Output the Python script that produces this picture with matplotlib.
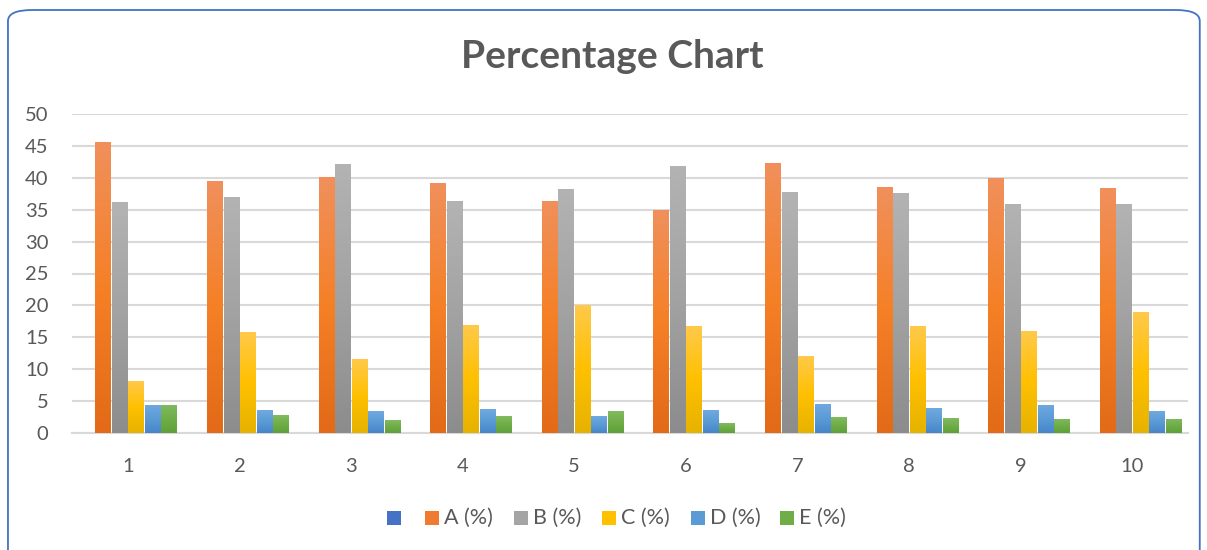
import numpy as np
import matplotlib
matplotlib.use("Agg")
import matplotlib.pyplot as plt
from matplotlib.patches import FancyBboxPatch, Rectangle
from matplotlib.colors import LinearSegmentedColormap

categories = ["1", "2", "3", "4", "5", "6", "7", "8", "9", "10"]
series_names = ["", "A (%)", "B (%)", "C (%)", "D (%)", "E (%)"]
s0 = [0, 0, 0, 0, 0, 0, 0, 0, 0, 0]
a_vals = [45.6, 39.5, 40.2, 39.2, 36.4, 35.0, 42.4, 38.6, 40.0, 38.4]
b_vals = [36.2, 37.0, 42.2, 36.4, 38.3, 41.9, 37.8, 37.6, 35.9, 35.9]
c_vals = [8.1, 15.8, 11.6, 16.9, 20.0, 16.8, 12.0, 16.8, 16.0, 19.0]
d_vals = [4.4, 3.6, 3.4, 3.7, 2.6, 3.6, 4.5, 3.9, 4.4, 3.4]
e_vals = [4.4, 2.8, 2.0, 2.6, 3.4, 1.5, 2.5, 2.3, 2.2, 2.2]
yticks = [0, 5, 10, 15, 20, 25, 30, 35, 40, 45, 50]

plt.rcParams["font.family"] = ["Lato", "DejaVu Sans"]

all_series = [s0, a_vals, b_vals, c_vals, d_vals, e_vals]
grads = [
    ("#5B8BD6", "#4472C4", "#3A63AD"),
    ("#F0905C", "#F58026", "#E26A18"),
    ("#B3B3B3", "#A2A2A2", "#8C8C8C"),
    ("#FFC94A", "#FFC000", "#E6B200"),
    ("#70A9E0", "#5B9BD5", "#4785CA"),
    ("#80BB60", "#70AD47", "#5FA03A"),
]
legend_colors = ["#4472C4", "#F07A2E", "#A5A5A5", "#FFC000", "#5B9BD5", "#70AD47"]

W, H = 1207, 550
fig = plt.figure(figsize=(W / 100, H / 100), dpi=100)
fig.patch.set_facecolor("white")

border = FancyBboxPatch((0.0066, -0.1), 0.9874, 1.0818,
                        boxstyle="round,pad=0,rounding_size=0.02",
                        transform=fig.transFigure, facecolor="none",
                        edgecolor="#4472C4", linewidth=1.3)
fig.patches.append(border)

ax = fig.add_axes([72 / W, 1 - 432.7 / H, (1188 - 72) / W, (432.7 - 114.3) / H])
n = len(all_series)
x = np.arange(len(categories))
span = 0.887
slot = span / n
barw = slot * 0.92

for i, vals in enumerate(all_series):
    offs = x - span / 2 + slot * (i + 0.5)
    bars = ax.bar(offs, vals, width=barw, color="none", edgecolor="none", zorder=3)
    cmap = LinearSegmentedColormap.from_list("g%d" % i, list(grads[i]))
    grad = np.linspace(0, 1, 256).reshape(-1, 1)
    for rect, v in zip(bars, vals):
        if v <= 0:
            continue
        x0 = rect.get_x()
        im = ax.imshow(grad, cmap=cmap, aspect="auto", origin="upper",
                       extent=(x0, x0 + rect.get_width(), 0, v), zorder=3,
                       interpolation="bilinear")
        im.set_clip_path(rect)

ax.set_xlim(-0.5, len(categories) - 0.5)
ax.set_ylim(0, 50)
ax.set_yticks(yticks)
ax.set_xticks(x)
ax.set_xticklabels(categories)
ax.yaxis.grid(True, color="#D9D9D9", linewidth=1.5, zorder=0)
ax.set_axisbelow(True)
for s in ["top", "right", "left"]:
    ax.spines[s].set_visible(False)
ax.spines["bottom"].set_color("#D9D9D9")
ax.spines["bottom"].set_linewidth(1.5)
ax.tick_params(axis="both", length=0, labelsize=14.5, labelcolor="#595959")
ax.tick_params(axis="y", pad=17)
ax.tick_params(axis="x", pad=18)
ax.set_facecolor("none")

fig.text(612 / W, 1 - 57 / H, "Percentage Chart", ha="center", va="center",
         fontsize=28, fontweight="bold", color="#595959")

# legend drawn as squares + labels in figure pixels
ly = 518
for i, (name, col) in enumerate(zip(series_names, legend_colors)):
    sx = 387 if i == 0 else 425 + (i - 1) * 88.7
    fig.patches.append(Rectangle((sx / W, 1 - (ly + 7) / H), 14 / W, 14 / H,
                                 transform=fig.transFigure, facecolor=col,
                                 edgecolor="none"))
    if name:
        fig.text((sx + 19) / W, 1 - ly / H, name, ha="left", va="center",
                 fontsize=15.5, color="#595959")

fig.savefig("out.png", dpi=100)
